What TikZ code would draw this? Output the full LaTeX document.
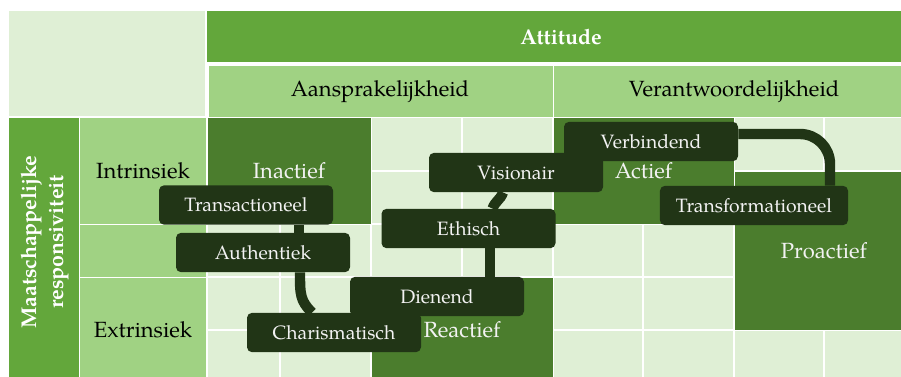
\documentclass[tikz,border=0pt]{standalone}
\usepackage{fontspec}
\setmainfont{TeX Gyre Pagella}
\usetikzlibrary{calc}
\definecolor{headGreen}{HTML}{63A73B}
\definecolor{midGreen}{HTML}{A0D283}
\definecolor{paleGreen}{HTML}{DFEFD5}
\definecolor{darkGreen}{HTML}{4B7D2D}
\definecolor{boxGreen}{HTML}{213516}
\definecolor{softWhite}{HTML}{F2F2F2}

\begin{document}
\begin{tikzpicture}[
  x=0.75pt, y=-0.75pt,
  every node/.style={align=center},
  head/.style={font=\fontsize{16.5}{20}\selectfont},
  headBold/.style={font=\fontsize{16}{20}\selectfont\bfseries, text=white},
  cellText/.style={font=\fontsize{16.5}{20}\selectfont, text=softWhite},
  box/.style={fill=boxGreen, text=softWhite, rounded corners=3.75pt,
    minimum width=130.5pt, minimum height=29.5pt, inner xsep=12pt,
    font=\fontsize{14.5}{17}\selectfont},
  link/.style={draw=boxGreen, line width=7.8pt},
  gridLine/.style={draw=white, line width=1.2pt}]

\useasboundingbox (0,0) rectangle (901,376);
\clip (0,0) rectangle (901,376);

% Header cells
\fill[paleGreen] (9,11) rectangle (205,116);
\fill[headGreen] (207,11) rectangle (915,62);
\fill[midGreen] (209,66) rectangle (552.5,116.5);
\fill[midGreen] (553.5,66) rectangle (915,116.5);
\node[headBold] (attitude) at (561,37) {Attitude};
\node[head] (aansprakelijkheid) at (380,91.5) {Aansprakelijkheid};
\node[head] (verantwoordelijkheid) at (734,91.5) {Verantwoordelijkheid};

% Row labels
\fill[headGreen] (9,118) rectangle (79,383);
\fill[midGreen] (80,118) rectangle (206,223.5);
\fill[midGreen] (80,224.5) rectangle (206,276.5);
\fill[midGreen] (80,277.5) rectangle (206,383);
\node[headBold, rotate=90] (responsiviteit) at (45,242) {Maatschappelijke\\responsiviteit};
\node[head] (intrinsiek) at (143,171) {Intrinsiek};
\node[head] (extrinsiek) at (143,330) {Extrinsiek};

% Grid of the body
\fill[paleGreen] (207.5,118) rectangle (915,383);
\foreach \x in {280,371,462,553,643,734,824}
  \draw[gridLine] (\x,118) -- (\x,383);
\foreach \y in {171,224,277,330}
  \draw[gridLine] (207.5,\y) -- (915,\y);

% Dark cells
\fill[darkGreen] (207.5,118) rectangle (370.5,223.5);
\fill[darkGreen] (553.5,118) rectangle (733.5,223.5);
\fill[darkGreen] (734.5,171.5) rectangle (915,329.5);
\fill[darkGreen] (371.5,277.5) rectangle (552.5,383);
\node[cellText] (inactief) at (289,171) {Inactief};
\node[cellText] (actief) at (643.5,171) {Actief};
\node[cellText] (proactief) at (824,250.5) {Proactief};
\node[cellText] (reactief) at (462,330) {Reactief};

% Leadership styles
\node[box] (transactioneel) at (246,205) {Transactioneel};
\node[box] (authentiek) at (263,252.5) {Authentiek};
\node[box] (charismatisch) at (334,332.5) {Charismatisch};
\node[box] (dienend) at (437,296.5) {Dienend};
\node[box] (ethisch) at (468.5,228.5) {Ethisch};
\node[box] (visionair) at (516,172.5) {Visionair};
\node[box] (verbindend) at (651,141.5) {Verbindend};
\node[box] (transformationeel) at (754,205.5) {Transformationeel};

% Connections between the styles
\draw[link] ($(transactioneel.south)+(53,0)$) -- ($(authentiek.north)+(36,0)$);
\draw[link] ($(authentiek.south)+(37,0)$) .. controls +(0,22) and +(-12,-12) .. ($(charismatisch.north)+(-22,0)$);
\draw[link] ($(visionair.south)+(-13,0)$) .. controls +(-3,8) and +(3,-8) .. ($(ethisch.north)+(24,0)$);
\draw[link] ($(ethisch.south)+(21.5,0)$) -- ($(dienend.north)+(53,0)$);
\draw[link, rounded corners=22.5pt] ($(verbindend.east)+(0,-7.5)$) -| ($(transformationeel.north)+(76,0)$);
\end{tikzpicture}
\end{document}
